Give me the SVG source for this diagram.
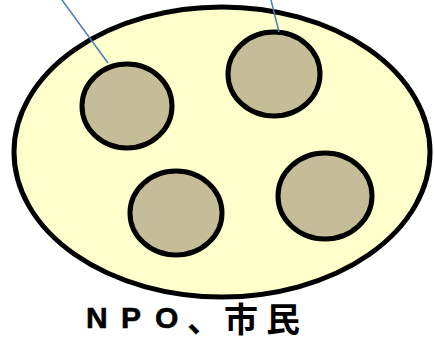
<svg xmlns="http://www.w3.org/2000/svg" width="434" height="342" viewBox="0 0 434 342">
<style>
.big{fill:#ffffcc;stroke:#000;stroke-width:5}
.sm{fill:#c4bd97;stroke:#000;stroke-width:5}
.ln{stroke:#4a7ebb;stroke-width:1.5;fill:none}
.lat{font-family:"Liberation Sans",Arial,sans-serif;font-weight:bold;font-size:30px;fill:#000;stroke:#000;stroke-width:0.6}
.cjk{font-family:"Noto Sans CJK JP",sans-serif;font-weight:bold;font-size:34px;fill:#000}
</style>
<rect width="434" height="342" fill="#fff"/>
<g id="group"><ellipse class="big" cx="222" cy="152" rx="208" ry="145"/></g>
<g id="member1"><ellipse class="sm" cx="127" cy="106" rx="45" ry="42"/></g>
<g id="member2"><ellipse class="sm" cx="274" cy="74" rx="46" ry="42"/></g>
<g id="member3"><ellipse class="sm" cx="176" cy="213" rx="46" ry="42"/></g>
<g id="member4"><ellipse class="sm" cx="325" cy="196" rx="47" ry="43"/></g>
<g id="connectors">
<line class="ln" x1="62" y1="0" x2="108" y2="63"/>
<line class="ln" x1="271" y1="0" x2="279" y2="32"/>
</g>
<g id="label">
<text class="lat" x="86" y="328">N</text>
<text class="lat" x="121" y="328">P</text>
<text class="lat" x="155" y="328">O</text>
<text class="cjk" x="187" y="332">、</text>
<text class="cjk" x="224" y="332">市</text>
<text class="cjk" x="266" y="332">民</text>
</g>
</svg>
